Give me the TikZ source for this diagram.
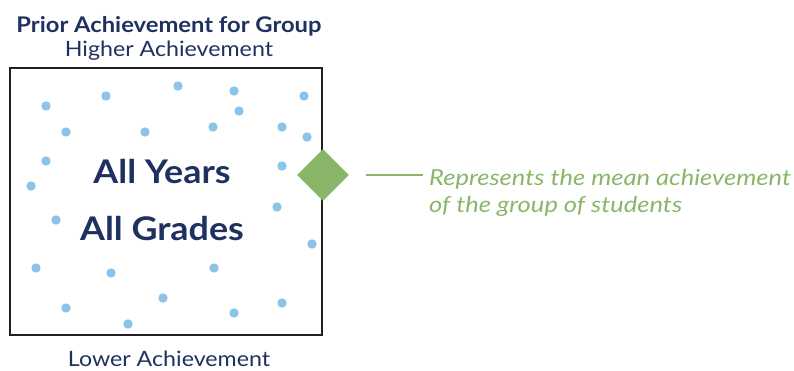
\documentclass[tikz,border=0pt]{standalone}
\usepackage{fontspec}
\setmainfont[FakeStretch=1.1]{Lato}
\newfontfamily\legendfont[FakeStretch=1.16]{Lato Italic}
\usetikzlibrary{shapes.geometric}
\definecolor{navy}{HTML}{1F3160}
\definecolor{dotblue}{HTML}{8DC3E8}
\definecolor{meangreen}{HTML}{8AB66A}
\definecolor{boxline}{HTML}{231F20}
\tikzset{
  dot/.style={fill=dotblue},
  toplabel/.style={text=navy, anchor=base, inner sep=0pt},
  biglabel/.style={text=navy, anchor=base, inner sep=0pt, font=\fontsize{32.6}{36}\selectfont\bfseries},
}
\begin{document}
\begin{tikzpicture}[x=1pt, y=-1pt]
				\useasboundingbox (0,0) rectangle (794,370);

				% Labels above and below
				\node[toplabel, font=\fontsize{21.6}{24}\selectfont\bfseries] (prior) at (169,32) {Prior Achievement for Group};
				\node[toplabel, font=\fontsize{21.1}{24}\selectfont] (higher) at (169,56) {Higher Achievement};
				\node[toplabel, font=\fontsize{21.1}{24}\selectfont] (lower) at (169,366.5) {Lower Achievement};

				% Group box
				\draw[boxline, line width=2.2pt] (10,68) rectangle (322,335);

				% Students
				\fill[dot] (46,106) circle (4.7);
				\fill[dot] (106,96) circle (4.7);
				\fill[dot] (178,86) circle (4.7);
				\fill[dot] (234,91) circle (4.7);
				\fill[dot] (304,96) circle (4.7);
				\fill[dot] (239,111) circle (4.7);
				\fill[dot] (66,132) circle (4.7);
				\fill[dot] (145,132) circle (4.7);
				\fill[dot] (213,127) circle (4.7);
				\fill[dot] (282,127) circle (4.7);
				\fill[dot] (307,137) circle (4.7);
				\fill[dot] (46,161) circle (4.7);
				\fill[dot] (282,166) circle (4.7);
				\fill[dot] (31,186) circle (4.7);
				\fill[dot] (277,207) circle (4.7);
				\fill[dot] (56,220) circle (4.7);
				\fill[dot] (312,244) circle (4.7);
				\fill[dot] (36,268) circle (4.7);
				\fill[dot] (111,273) circle (4.7);
				\fill[dot] (214,268) circle (4.7);
				\fill[dot] (163,298) circle (4.7);
				\fill[dot] (66,308) circle (4.7);
				\fill[dot] (234,313) circle (4.7);
				\fill[dot] (282,303) circle (4.7);
				\fill[dot] (128,324) circle (4.7);

				% Box text
				\node[biglabel] (years) at (162,183) {All Years};
				\node[biglabel] (grades) at (162,240) {All Grades};

				% Mean marker and legend
				\node[diamond, fill=meangreen, inner sep=0pt, minimum width=52pt, minimum height=52pt] (mean) at (323,175) {};
				\node[text=meangreen, anchor=base west, inner sep=0pt, align=left,
				      font=\fontsize{22}{27}\legendfont] (legend) at (429,212)
				      {Represents the mean achievement\\of the group of students};
				\draw[meangreen, line width=2pt] ([xshift=17pt]mean.east) -- ([xshift=-6pt]legend.west |- mean.east);
			\end{tikzpicture}
\end{document}
